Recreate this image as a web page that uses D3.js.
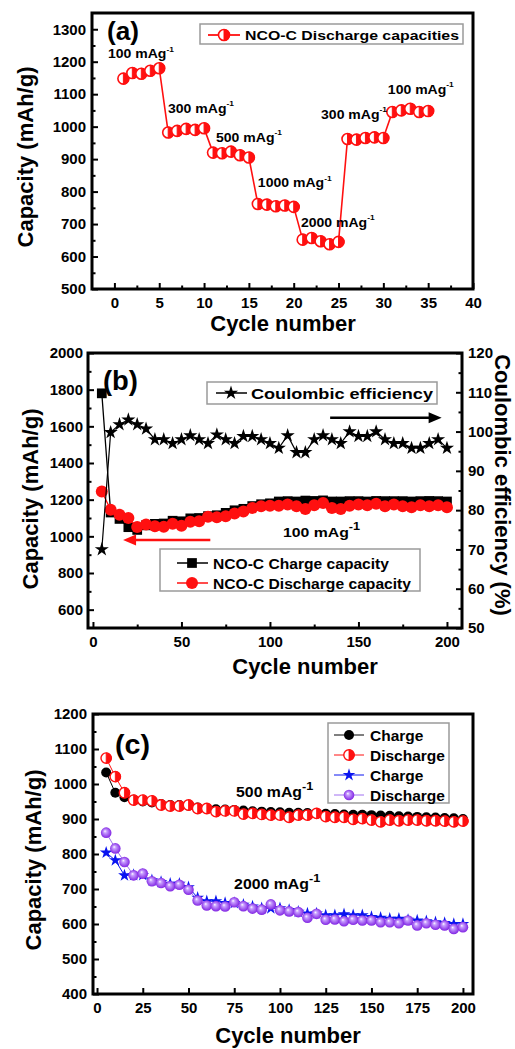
<!DOCTYPE html>
<html><head><meta charset="utf-8">
<script src="https://cdn.jsdelivr.net/npm/d3@7"></script>
<style>
body{margin:0;background:#fff}
svg{display:block}
text{font-family:Arial,"Liberation Sans",sans-serif;font-weight:bold;fill:#000}
</style>
</head><body>
<svg id="c" width="515" height="1049"></svg>
<script>
// ---------------- DATA ----------------
// Panel (a): rate capability
const aCycles = [1,2,3,4,5,6,7,8,9,10,11,12,13,14,15,16,17,18,19,20,21,22,23,24,25,26,27,28,29,30,31,32,33,34,35];
const aDischarge = [1148,1165,1163,1172,1180, 982,987,993,990,995, 920,918,923,912,905, 762,760,755,757,753, 652,657,647,638,645, 962,960,965,967,965, 1045,1050,1055,1045,1048];
const aXTicks = [0,5,10,15,20,25,30,35,40];
const aYTicks = [500,600,700,800,900,1000,1100,1200,1300];

// Panel (b): cycling at 100 mA/g
const bCycles = [5,10,15,20,25,30,35,40,45,50,55,60,65,70,75,80,85,90,95,100,105,110,115,120,125,130,135,140,145,150,155,160,165,170,175,180,185,190,195,200];
const bCharge = [1780,1130,1095,1050,1035,1060,1068,1070,1085,1082,1098,1100,1110,1115,1128,1142,1150,1165,1175,1180,1190,1192,1190,1195,1193,1196,1190,1190,1192,1192,1190,1193,1192,1192,1192,1190,1192,1193,1192,1190];
const bDischarge = [1245,1145,1118,1100,1051,1064,1055,1052,1069,1058,1080,1082,1107,1104,1109,1124,1136,1155,1164,1167,1167,1173,1164,1149,1169,1182,1155,1149,1167,1173,1169,1178,1164,1173,1164,1158,1169,1164,1169,1158];
const bCE = [70,99.8,101.8,103,101.8,100.7,98,98,97,98,99,98,97,99.2,98,97,98.8,98.8,98,97,95.8,99,94.7,94.7,98,99,98,97,100,98.8,98.8,100,98,97,97,95.8,95.8,97,98,95.8];
const bXTicks = [0,50,100,150,200];
const bYTicks = [600,800,1000,1200,1400,1600,1800,2000];
const bY2Ticks = [50,60,70,80,90,100,110,120];

// Panel (c): long cycling at 500 and 2000 mA/g
const cCycles = [5,10,15,20,25,30,35,40,45,50,55,60,65,70,75,80,85,90,95,100,105,110,115,120,125,130,135,140,145,150,155,160,165,170,175,180,185,190,195,200];
const c500Charge = [1033,975,962,955,950,947,943,940,940,938,933,930,928,927,926,924,922,921,920,919,918,918,917,916,915,914,913,912,912,911,910,909,908,907,906,905,904,903,902,900];
const c500Discharge = [1074,1021,975,954,954,952,940,937,937,940,930,930,921,923,923,914,916,913,911,911,905,911,911,916,907,905,905,899,901,897,892,897,895,897,897,895,895,894,892,894];
const c2000Charge = [804,782,739,740,740,725,720,715,715,705,675,665,665,660,660,655,650,645,645,645,640,635,630,630,625,625,628,625,625,620,618,615,615,612,610,608,605,603,600,600];
const c2000Discharge = [861,816,777,739,744,722,717,708,712,698,667,653,651,650,662,651,644,641,656,639,636,634,618,629,612,613,608,612,610,610,605,605,602,610,596,602,598,596,586,591];
const cXTicks = [0,25,50,75,100,125,150,175,200];
const cYTicks = [400,500,600,700,800,900,1000,1100,1200];

// ---------------- DRAW ----------------
const svg = d3.select("#c");
const RED = "#ff1010", BLUE = "#0a14f0", LPURPLE = "#a070f0";
const fmt = d3.format("d");

const defs = svg.append("defs");
const grad = defs.append("radialGradient").attr("id","sph").attr("cx","50%").attr("cy","50%").attr("r","55%").attr("fx","38%").attr("fy","35%");
grad.append("stop").attr("offset","0%").attr("stop-color","#ffffff");
grad.append("stop").attr("offset","25%").attr("stop-color","#c9a0ff");
grad.append("stop").attr("offset","100%").attr("stop-color","#7a18e0");

function styleAxis(g, fs) {
  g.select(".domain").remove();
  g.attr("font-size", fs).attr("font-family", "Arial, Liberation Sans, sans-serif").attr("font-weight","bold");
  g.selectAll(".tick line").attr("stroke","#000").attr("stroke-width",2);
  g.selectAll(".tick text").attr("fill","#000");
}
function minorAxis(g, axis) {
  g.call(axis.tickFormat(""));
  g.select(".domain").remove();
  g.selectAll(".tick text").remove();
  g.selectAll(".tick line").attr("stroke","#000").attr("stroke-width",2);
}
function frame(g, L, R, T, B) {
  g.append("rect").attr("x",L).attr("y",T).attr("width",R-L).attr("height",B-T)
    .attr("fill","none").attr("stroke","#000").attr("stroke-width",3);
}
function fitText(g, px, py, base, sup, fs, width, supScale, supDy) {
  const t = g.append("text").attr("font-size", fs);
  const b = t.append("tspan").text(base);
  if (sup) t.append("tspan").attr("dy", -fs*(supDy||0.45)).attr("font-size", fs*(supScale||0.65)).text(sup);
  const bw = b.node().getComputedTextLength();
  const sx = width ? width / bw : 1;
  t.attr("transform", `translate(${px},${py}) scale(${sx},1)`);
  return t;
}
function halfCircle(g, cx, cy, r, color, sw) {
  const m = g.append("g").attr("transform", `translate(${cx},${cy})`);
  m.append("circle").attr("r", r).attr("fill","#fff").attr("stroke",color).attr("stroke-width",sw);
  m.append("path").attr("d", `M0,${-r} A${r},${r} 0 0 1 0,${r} Z`).attr("fill",color).attr("stroke",color).attr("stroke-width",sw*0.6);
}
function yTitle(g, x, y, txt, rot) {
  g.append("text").attr("transform",`translate(${x},${y}) rotate(${rot})`).attr("text-anchor","middle")
    .attr("font-size",22).text(txt);
}
function xTitle(g, x, y, txt) {
  g.append("text").attr("x",x).attr("y",y).attr("text-anchor","middle").attr("font-size",22).text(txt);
}

// ======== Panel (a) ========
{
  const L=92,R=473,T=13,B=289;
  const g = svg.append("g");
  const x = d3.scaleLinear().domain([-2.5,40]).range([L,R]);
  const y = d3.scaleLinear().domain([500,1350]).range([B,T]);
  g.append("g").attr("transform",`translate(${L},0)`).call(d3.axisLeft(y).tickValues(aYTicks).tickFormat(fmt).tickSize(-6).tickPadding(6)).call(s=>styleAxis(s,15));
  g.append("g").attr("transform",`translate(${L},0)`).call(s=>minorAxis(s, d3.axisLeft(y).tickValues(aYTicks.slice(0,-1).map(v=>v+50)).tickSize(-3.5)));
  g.append("g").attr("transform",`translate(0,${B})`).call(d3.axisBottom(x).tickValues(aXTicks).tickFormat(fmt).tickSize(-6).tickPadding(8)).call(s=>styleAxis(s,15));
  g.append("g").attr("transform",`translate(0,${B})`).call(s=>minorAxis(s, d3.axisBottom(x).tickValues(aXTicks.slice(0,-1).map(v=>v+2.5)).tickSize(-3.5)));
  frame(g,L,R,T,B);

  const pts = aCycles.map((c,i)=>[c,aDischarge[i]]);
  g.append("path").datum(pts).attr("d", d3.line().x(d=>x(d[0])).y(d=>y(d[1])))
    .attr("fill","none").attr("stroke",RED).attr("stroke-width",1.6);
  pts.forEach(d=>halfCircle(g, x(d[0]), y(d[1]), 5.5, RED, 1.6));

  // annotations
  const ann = [[-0.72,1211,"100 mAg"],[5.98,1043,"300 mAg"],[11.33,954,"500 mAg"],[16.0,813,"1000 mAg"],[20.8,692,"2000 mAg"],[23.05,1025,"300 mAg"],[30.5,1102,"100 mAg"]];
  ann.forEach(a=>{
    const t = fitText(g, x(a[0]), y(a[1]), a[2], "-1", 12, null, 0.6, 0.55);
    t.attr("transform", `translate(${x(a[0])},${y(a[1])}) scale(1.17,1)`);
  });

  fitText(g, 107, 40, "(a)", null, 26, 32);

  // legend
  g.append("rect").attr("x",200).attr("y",24).attr("width",263).attr("height",20).attr("fill","#fff").attr("stroke","#9a9a9a").attr("stroke-width",1.5);
  g.append("line").attr("x1",208).attr("x2",240).attr("y1",35).attr("y2",35).attr("stroke",RED).attr("stroke-width",1.8);
  halfCircle(g, 224, 35, 5.5, RED, 1.6);
  g.append("text").attr("x",245).attr("y",40).attr("font-size",13.5).attr("textLength",214).attr("lengthAdjust","spacingAndGlyphs").text("NCO-C Discharge capacities");

  yTitle(g, 33, 157, "Capacity (mAh/g)", -90);
  xTitle(g, 283, 331, "Cycle number");
}

// ======== Panel (b) ========
{
  const L=88,R=462,T=353,B=628;
  const g = svg.append("g");
  const x = d3.scaleLinear().domain([-2.8,208.5]).range([L,R]);
  const y = d3.scaleLinear().domain([500,2000]).range([B,T]);
  const y2 = d3.scaleLinear().domain([50,120]).range([B,T]);
  g.append("g").attr("transform",`translate(${L},0)`).call(d3.axisLeft(y).tickValues(bYTicks).tickFormat(fmt).tickSize(-6).tickPadding(5)).call(s=>styleAxis(s,15));
  g.append("g").attr("transform",`translate(${L},0)`).call(s=>minorAxis(s, d3.axisLeft(y).tickValues([700,900,1100,1300,1500,1700,1900]).tickSize(-3.5)));
  g.append("g").attr("transform",`translate(${R},0)`).call(d3.axisRight(y2).tickValues(bY2Ticks).tickFormat(fmt).tickSize(-6).tickPadding(6)).call(s=>styleAxis(s,15));
  g.append("g").attr("transform",`translate(${R},0)`).call(s=>minorAxis(s, d3.axisRight(y2).tickValues(bY2Ticks.slice(0,-1).map(v=>v+5)).tickSize(-3.5)));
  g.append("g").attr("transform",`translate(0,${B})`).call(d3.axisBottom(x).tickValues(bXTicks).tickFormat(fmt).tickSize(-6).tickPadding(8)).call(s=>styleAxis(s,15));
  g.append("g").attr("transform",`translate(0,${B})`).call(s=>minorAxis(s, d3.axisBottom(x).tickValues([25,75,125,175]).tickSize(-3.5)));
  frame(g,L,R,T,B);

  const line = d3.line().x(d=>x(d[0])).y(d=>d[1]);
  const ch = bCycles.map((c,i)=>[c,y(bCharge[i])]);
  const dc = bCycles.map((c,i)=>[c,y(bDischarge[i])]);
  const ce = bCycles.map((c,i)=>[c,y2(bCE[i])]);

  g.append("path").datum(ch).attr("d",line).attr("fill","none").attr("stroke","#000").attr("stroke-width",1.3);
  g.selectAll(".sq").data(ch).join("path").attr("transform",d=>`translate(${x(d[0])},${d[1]})`)
    .attr("d", d3.symbol(d3.symbolSquare, 95)).attr("fill","#000");
  g.append("path").datum(dc).attr("d",line).attr("fill","none").attr("stroke",RED).attr("stroke-width",1.3);
  g.selectAll(".dc").data(dc).join("circle").attr("cx",d=>x(d[0])).attr("cy",d=>d[1]).attr("r",6).attr("fill",RED);
  g.append("path").datum(ce).attr("d",line).attr("fill","none").attr("stroke","#000").attr("stroke-width",1.2);
  g.selectAll(".st").data(ce).join("path").attr("transform",d=>`translate(${x(d[0])},${d[1]})`)
    .attr("d", d3.symbol(d3.symbolStar, 62)).attr("fill","#000");

  // arrows
  const ax1 = x(134), ax2 = x(197), ay = y2(103.5);
  g.append("line").attr("x1",ax1).attr("x2",ax2-10).attr("y1",ay).attr("y2",ay).attr("stroke","#000").attr("stroke-width",2.5);
  g.append("path").attr("d",`M${ax2},${ay} L${ax2-13},${ay-5.5} L${ax2-13},${ay+5.5} Z`).attr("fill","#000");
  const rx1 = x(66.3), rx2 = x(17), ry = y(980);
  g.append("line").attr("x1",rx1).attr("x2",rx2+10).attr("y1",ry).attr("y2",ry).attr("stroke",RED).attr("stroke-width",2.5);
  g.append("path").attr("d",`M${rx2},${ry} L${rx2+13},${ry-5.5} L${rx2+13},${ry+5.5} Z`).attr("fill",RED);

  fitText(g, x(107.3), y(995), "100 mAg", "-1", 13, 66, 0.8, 0.55);
  fitText(g, 103, 390, "(b)", null, 27, 35);

  // legend CE
  g.append("rect").attr("x",207).attr("y",382).attr("width",230).attr("height",22).attr("fill","#fff").attr("stroke","#9a9a9a").attr("stroke-width",1.5);
  g.append("line").attr("x1",216).attr("x2",247).attr("y1",393).attr("y2",393).attr("stroke","#000").attr("stroke-width",1.5);
  g.append("path").attr("transform","translate(231,393)").attr("d", d3.symbol(d3.symbolStar, 62)).attr("fill","#000");
  g.append("text").attr("x",251).attr("y",399).attr("font-size",15.5).attr("textLength",182).attr("lengthAdjust","spacingAndGlyphs").text("Coulombic efficiency");

  // legend capacity
  g.append("rect").attr("x",160).attr("y",549).attr("width",260).attr("height",42).attr("fill","#fff").attr("stroke","#9a9a9a").attr("stroke-width",1.5);
  g.append("line").attr("x1",177).attr("x2",208).attr("y1",563).attr("y2",563).attr("stroke","#000").attr("stroke-width",1.5);
  g.append("path").attr("transform","translate(192,563)").attr("d", d3.symbol(d3.symbolSquare, 95)).attr("fill","#000");
  g.append("text").attr("x",213).attr("y",568.5).attr("font-size",15.5).attr("textLength",176).attr("lengthAdjust","spacingAndGlyphs").text("NCO-C Charge capacity");
  g.append("line").attr("x1",177).attr("x2",208).attr("y1",583).attr("y2",583).attr("stroke",RED).attr("stroke-width",1.5);
  g.append("circle").attr("cx",192).attr("cy",583).attr("r",6).attr("fill",RED);
  g.append("text").attr("x",213).attr("y",588.5).attr("font-size",15.5).attr("textLength",198).attr("lengthAdjust","spacingAndGlyphs").text("NCO-C Discharge capacity");

  yTitle(g, 38, 499, "Capacity (mAh/g)", -90);
  yTitle(g, 495, 485, "Coulombic efficiency (%)", 90);
  xTitle(g, 305, 674, "Cycle number");
}

// ======== Panel (c) ========
{
  const L=93,R=473,T=714,B=994;
  const g = svg.append("g");
  const x = d3.scaleLinear().domain([-2.2,205.5]).range([L,R]);
  const y = d3.scaleLinear().domain([400,1200]).range([B,T]);
  g.append("g").attr("transform",`translate(${L},0)`).call(d3.axisLeft(y).tickValues(cYTicks).tickFormat(fmt).tickSize(-6).tickPadding(6)).call(s=>styleAxis(s,15));
  g.append("g").attr("transform",`translate(${L},0)`).call(s=>minorAxis(s, d3.axisLeft(y).tickValues(cYTicks.slice(0,-1).map(v=>v+50)).tickSize(-3.5)));
  g.append("g").attr("transform",`translate(0,${B})`).call(d3.axisBottom(x).tickValues(cXTicks).tickFormat(fmt).tickSize(-6).tickPadding(8)).call(s=>styleAxis(s,15));
  frame(g,L,R,T,B);

  const line = d3.line().x(d=>x(d[0])).y(d=>y(d[1]));
  const s1 = cCycles.map((c,i)=>[c,c500Charge[i]]);
  const s2 = cCycles.map((c,i)=>[c,c500Discharge[i]]);
  const s3 = cCycles.map((c,i)=>[c,c2000Charge[i]]);
  const s4 = cCycles.map((c,i)=>[c,c2000Discharge[i]]);

  g.append("path").datum(s1).attr("d",line).attr("fill","none").attr("stroke","#000").attr("stroke-width",1);
  g.selectAll(".c1").data(s1).join("circle").attr("cx",d=>x(d[0])).attr("cy",d=>y(d[1])).attr("r",5).attr("fill","#000");
  g.append("path").datum(s2).attr("d",line).attr("fill","none").attr("stroke",RED).attr("stroke-width",1);
  s2.forEach(d=>halfCircle(g, x(d[0]), y(d[1]), 5.2, RED, 1.4));

  g.append("path").datum(s3).attr("d",line).attr("fill","none").attr("stroke",BLUE).attr("stroke-width",1);
  g.selectAll(".c3").data(s3).join("path").attr("transform",d=>`translate(${x(d[0])},${y(d[1])})`)
    .attr("d", d3.symbol(d3.symbolStar, 50)).attr("fill",BLUE);
  g.append("path").datum(s4).attr("d",line).attr("fill","none").attr("stroke",LPURPLE).attr("stroke-width",1);
  g.selectAll(".c4").data(s4).join("circle").attr("cx",d=>x(d[0])).attr("cy",d=>y(d[1])).attr("r",5.3).attr("fill","url(#sph)");

  fitText(g, x(76), y(964), "500 mAg", "-1", 14, 66, 0.8, 0.5);
  fitText(g, x(74.9), y(700), "2000 mAg", "-1", 14, 75, 0.8, 0.5);
  fitText(g, 115, 754, "(c)", null, 28, 35);

  // legend
  g.append("rect").attr("x",328).attr("y",723).attr("width",121).attr("height",80).attr("fill","#fff").attr("stroke","#9a9a9a").attr("stroke-width",1.5);
  const ly = [735,755,775,795];
  const lc = ["#000",RED,BLUE,LPURPLE];
  ly.forEach((yy,i)=>g.append("line").attr("x1",334).attr("x2",364).attr("y1",yy).attr("y2",yy).attr("stroke",lc[i]).attr("stroke-width",1));
  g.append("circle").attr("cx",349).attr("cy",735).attr("r",5).attr("fill","#000");
  halfCircle(g, 349, 755, 5.2, RED, 1.4);
  g.append("path").attr("transform","translate(349,775)").attr("d", d3.symbol(d3.symbolStar, 50)).attr("fill",BLUE);
  g.append("circle").attr("cx",349).attr("cy",795).attr("r",5.3).attr("fill","url(#sph)");
  const lt = ["Charge","Discharge","Charge","Discharge"];
  lt.forEach((t,i)=>g.append("text").attr("x",370).attr("y",ly[i]+5.5).attr("font-size",15.5).text(t));

  yTitle(g, 41, 860, "Capacity (mAh/g)", -90);
  xTitle(g, 288, 1043, "Cycle number");
}
</script>
</body></html>
